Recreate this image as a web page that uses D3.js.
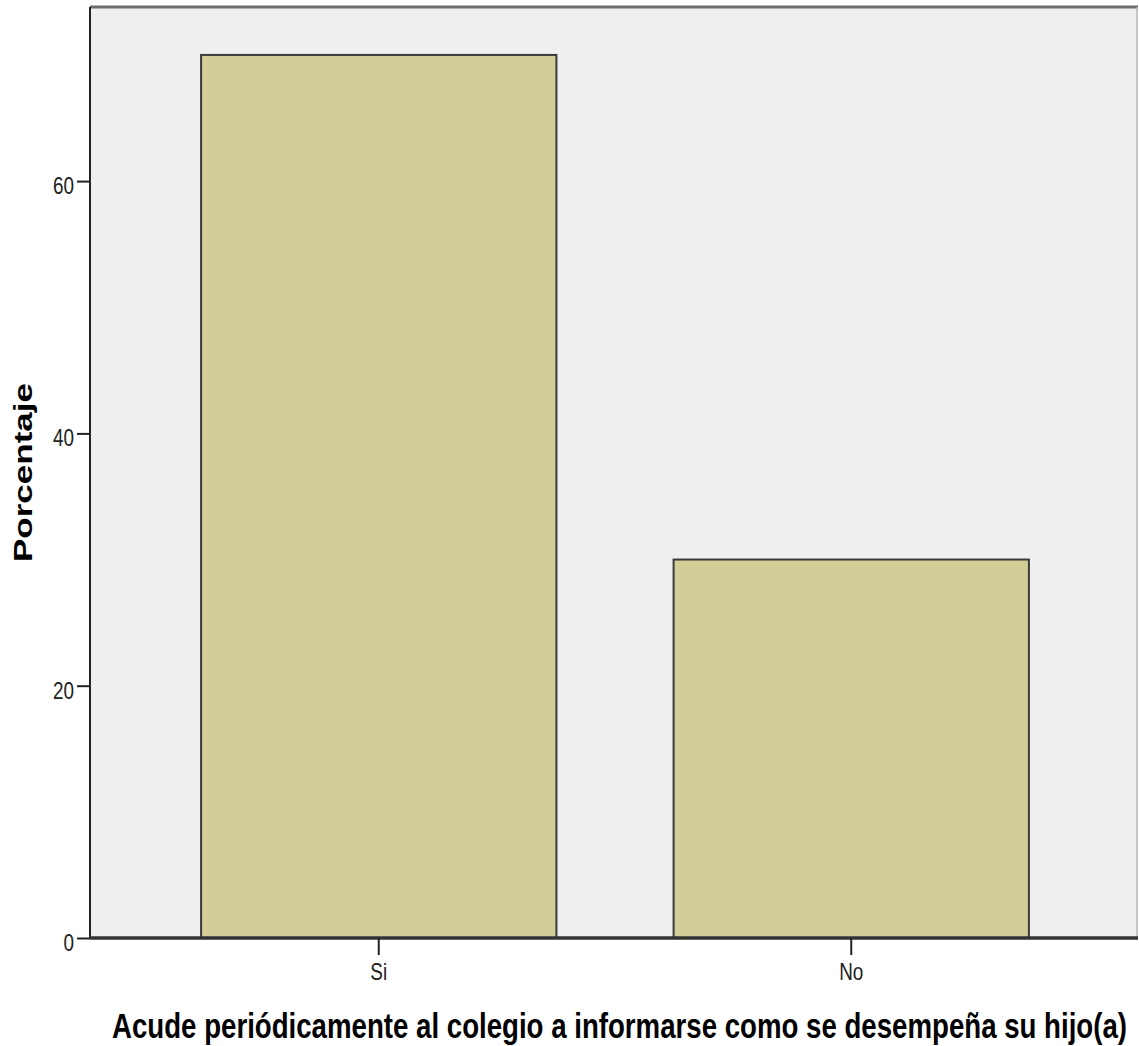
<!DOCTYPE html>
<html><head><meta charset="utf-8">
<script src="https://cdn.jsdelivr.net/npm/d3@7"></script>
<style>body{margin:0;background:#fff}svg{display:block}</style>
</head><body><svg id="c" width="1139" height="1046"></svg>
<script>
const categories = ["Si", "No"];
const values = [70, 30];
const yTicks = [0, 20, 40, 60];
const xTitle = "Acude periódicamente al colegio a informarse como se desempeña su hijo(a)";
const yTitle = "Porcentaje";

const svg = d3.select("#c");
const plot = {left: 90, right: 1137, top: 7, bottom: 938};
const stretch = 1.3;

const y = d3.scaleLinear().domain([0, 73.8]).range([plot.bottom, plot.top]);
const x = d3.scaleBand().domain(categories).range([91, 1139])
  .paddingInner(0.248).paddingOuter(0.233);

// plot background
svg.append("rect")
  .attr("x", plot.left).attr("y", plot.top)
  .attr("width", plot.right - plot.left).attr("height", plot.bottom - plot.top)
  .attr("fill", "#efefef");

// top & right frame
svg.append("line").attr("x1", plot.left).attr("x2", plot.right + 1)
  .attr("y1", plot.top).attr("y2", plot.top)
  .attr("stroke", "#6e6e6e").attr("stroke-width", 3);
svg.append("line").attr("x1", plot.right).attr("x2", plot.right)
  .attr("y1", plot.top).attr("y2", plot.bottom)
  .attr("stroke", "#b4b4b4").attr("stroke-width", 1.5);

// bars
svg.append("g").selectAll("rect").data(categories.map((c, i) => ({c, v: values[i]})))
  .join("rect")
  .attr("x", d => x(d.c)).attr("y", d => y(d.v))
  .attr("width", x.bandwidth()).attr("height", d => y(0) - y(d.v))
  .attr("fill", "#d3ce98").attr("stroke", "#3a3a3a").attr("stroke-width", 2);

// y axis
const gy = svg.append("g").attr("transform", `translate(${plot.left},0)`)
  .call(d3.axisLeft(y).tickValues(yTicks).tickSize(13).tickFormat(d3.format("d")));
gy.select(".domain").attr("stroke", "#222").attr("stroke-width", 2)
  .attr("d", `M0,${plot.top}V${plot.bottom}`);
gy.selectAll(".tick line").attr("stroke", "#222").attr("stroke-width", 2);
gy.selectAll(".tick text")
  .attr("x", null).attr("y", null).attr("dy", null)
  .attr("transform", `translate(-16,12.5) scale(1,${stretch})`)
  .attr("text-anchor", "end")
  .style("font-family", "'Liberation Sans', Arial, sans-serif")
  .style("font-size", "18.9px").attr("fill", "#222");

// x axis
const gx = svg.append("g").attr("transform", `translate(0,${plot.bottom})`)
  .call(d3.axisBottom(x).tickSize(17));
gx.select(".domain").attr("stroke", "#333").attr("stroke-width", 3.5)
  .attr("d", `M${plot.left},0H${plot.right + 1}`);
gx.selectAll(".tick line").attr("stroke", "#222").attr("stroke-width", 2);
gx.selectAll(".tick text")
  .attr("y", null).attr("dy", null)
  .attr("transform", `translate(0,42) scale(1,${stretch})`)
  .attr("text-anchor", "middle")
  .style("font-family", "'Liberation Sans', Arial, sans-serif")
  .style("font-size", "18.9px").attr("fill", "#222");

// x title
svg.append("text")
  .attr("transform", `translate(619.5,1038) scale(1,${stretch})`)
  .attr("text-anchor", "middle")
  .attr("textLength", 1015).attr("lengthAdjust", "spacingAndGlyphs")
  .style("font-family", "'Liberation Sans', Arial, sans-serif")
  .style("font-weight", "bold").style("font-size", "27.6px")
  .attr("fill", "#000")
  .text(xTitle);

// y title
svg.append("text")
  .attr("transform", `translate(32,472.5) rotate(-90) scale(${stretch},1)`)
  .attr("text-anchor", "middle")
  .attr("textLength", 179 / stretch).attr("lengthAdjust", "spacingAndGlyphs")
  .style("font-family", "'Liberation Sans', Arial, sans-serif")
  .style("font-weight", "bold").style("font-size", "26.5px")
  .attr("fill", "#000")
  .text(yTitle);
</script></body></html>
